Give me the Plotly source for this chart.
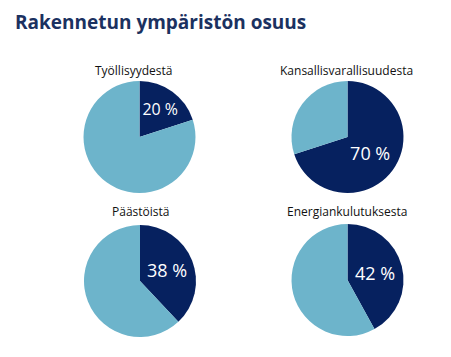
import plotly.graph_objects as go

W, H = 451, 357
OFF = 8  # page body margin offset
titles = ["Työllisyydestä", "Kansallisvarallisuudesta", "Päästöistä", "Energiankulutuksesta"]
shares = [20, 70, 38, 42]
rest = [100 - s for s in shares]
# pie centers (px in screenshot) and radius
centers = [(139.5, 137), (347.5, 137), (140, 281), (347.5, 280)]
R = 56
title_y = [70, 70, 211, 211]
title_x = [134, 346, 140, 347]

dark = "#06215F"
light = "#6DB4CB"


def px(x):
    return (x - OFF) / W


def py(y):
    return 1 - (y - OFF) / H


fig = go.Figure()
for i in range(4):
    cx, cy = centers[i]
    fig.add_trace(go.Pie(
        values=[shares[i], rest[i]],
        labels=["Rakennettu ympäristö", "Muu"],
        sort=False, direction="clockwise", rotation=0,
        marker=dict(colors=[dark, light], line=dict(width=0)),
        texttemplate=["%{value} %", ""],
        textposition="inside",
        insidetextorientation="horizontal",
        textfont=dict(family="Open Sans", size=18, color="white"),
        hoverinfo="label+value",
        showlegend=False,
        domain=dict(x=[px(cx - R), px(cx + R)], y=[py(cy + R), py(cy - R)]),
    ))
    fig.add_annotation(text=titles[i], x=px(title_x[i]), y=py(title_y[i]),
                       xref="paper", yref="paper", xanchor="center", yanchor="middle",
                       showarrow=False,
                       font=dict(family="Open Sans", size=12, color="#111111"))

fig.add_annotation(text="<b>Rakennetun ympäristön osuus</b>", x=px(13), y=py(22),
                   xref="paper", yref="paper", xanchor="left", yanchor="middle",
                   showarrow=False,
                   font=dict(family="Open Sans", size=19, color="#1B3160"))

fig.update_layout(width=W, height=H, margin=dict(l=0, r=0, t=0, b=0),
                  paper_bgcolor="white", plot_bgcolor="white")
fig.write_html("out.html")
